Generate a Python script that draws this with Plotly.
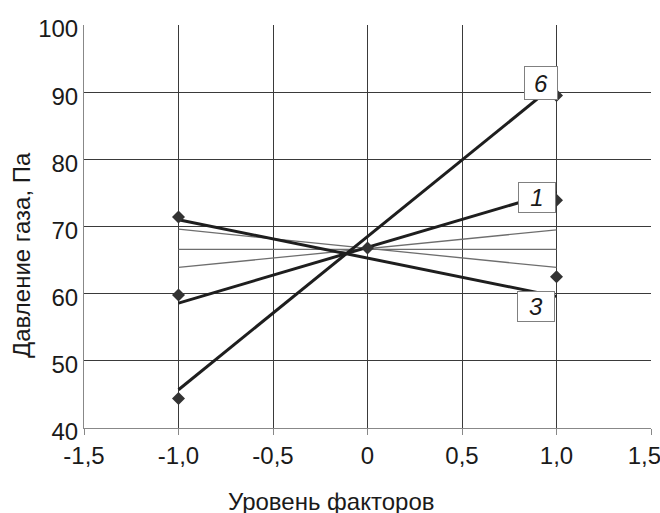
import plotly.graph_objects as go

# ---- data ----
x_tickvals = [-1.5, -1.0, -0.5, 0.0, 0.5, 1.0, 1.5]
x_ticktext = ["-1,5", "-1,0", "-0,5", "0", "0,5", "1,0", "1,5\u00a0\u00a0"]
y_tickvals = [40, 50, 60, 70, 80, 90, 100]
y_ticktext = ["40", "50", "60", "70", "80", "90", "100"]

# experimental points
point_x = [-1, -1, -1, 0, 1, 1, 1]
point_y = [71.4, 59.8, 44.4, 66.8, 89.5, 73.9, 62.5]

# model lines (endpoints at factor levels -1 and +1)
line_x = [-1, 1]
line6_y = [45.7, 91.3]
line1_y = [58.6, 75.2]
line3_y = [71.0, 59.6]
thin_a_y = [63.9, 69.5]
thin_b_y = [66.6, 66.6]
thin_c_y = [69.6, 63.9]

labels = ["6", "1", "3"]

FONT = "Liberation Sans, Arial, sans-serif"
THICK = "#1e1e1e"
THIN = "#6e6e6e"

fig = go.Figure()

for ys in (thin_a_y, thin_b_y, thin_c_y):
    fig.add_trace(go.Scatter(x=line_x, y=ys, mode="lines",
                             line=dict(color=THIN, width=1.3), showlegend=False))
for ys in (line6_y, line1_y, line3_y):
    fig.add_trace(go.Scatter(x=line_x, y=ys, mode="lines",
                             line=dict(color=THICK, width=3), showlegend=False))

fig.add_trace(go.Scatter(x=point_x, y=point_y, mode="markers",
                         marker=dict(symbol="diamond", size=10, color="#333333"),
                         showlegend=False))

# label boxes anchored to line ends
label_specs = [
    (labels[0], line6_y[1], -16, 0, 32, 32),
    (labels[1], line1_y[1], -19.5, -6, 36, 29),
    (labels[2], line3_y[1], -21, -10, 36, 29),
]
for txt, yend, dx, dy, w, h in label_specs:
    fig.add_annotation(x=line_x[1], y=yend, xref="x", yref="y", text=txt,
                       showarrow=False, xshift=dx, yshift=dy,
                       width=w, height=h, borderpad=0, borderwidth=1,
                       bordercolor="#808080", bgcolor="white",
                       font=dict(family=FONT, size=24, color="#1a1a1a", style="italic"))

# axis titles
fig.add_annotation(x=0.4365, y=-0.1824, xref="paper", yref="paper",
                   text="Уровень факторов", showarrow=False,
                   xanchor="center", yanchor="middle",
                   font=dict(family=FONT, size=24, color="#1a1a1a"))
fig.add_annotation(x=-0.1093, y=0.4293, xref="paper", yref="paper",
                   text="Давление газа, Па", showarrow=False, textangle=-90,
                   xanchor="center", yanchor="middle",
                   font=dict(family=FONT, size=24, color="#1a1a1a"))

fig.update_layout(
    width=660, height=513,
    margin=dict(l=84, r=9, t=25, b=85, autoexpand=False),
    paper_bgcolor="white", plot_bgcolor="white",
    font=dict(family=FONT, size=24, color="#1a1a1a"),
)
fig.update_xaxes(range=[-1.5, 1.5], tickvals=x_tickvals, ticktext=x_ticktext,
                 showgrid=True, gridcolor="#3a3a3a", gridwidth=1,
                 zeroline=False, showline=True, linecolor="#888888", linewidth=1,
                 ticks="outside", ticklen=6, tickcolor="#888888",
                 ticklabeloverflow="allow", automargin=False,
                 tickfont=dict(family=FONT, size=24, color="#1a1a1a"))
fig.update_yaxes(range=[40, 100], tickvals=y_tickvals, ticktext=y_ticktext,
                 showgrid=True, gridcolor="#3a3a3a", gridwidth=1,
                 zeroline=False, showline=True, linecolor="#888888", linewidth=1,
                 ticks="", ticklabelshift=4, automargin=False,
                 tickfont=dict(family=FONT, size=24, color="#1a1a1a"))

fig.write_html("out.html", config={"displayModeBar": False},
               post_script="document.body.style.margin='0';document.body.style.padding='0';")
